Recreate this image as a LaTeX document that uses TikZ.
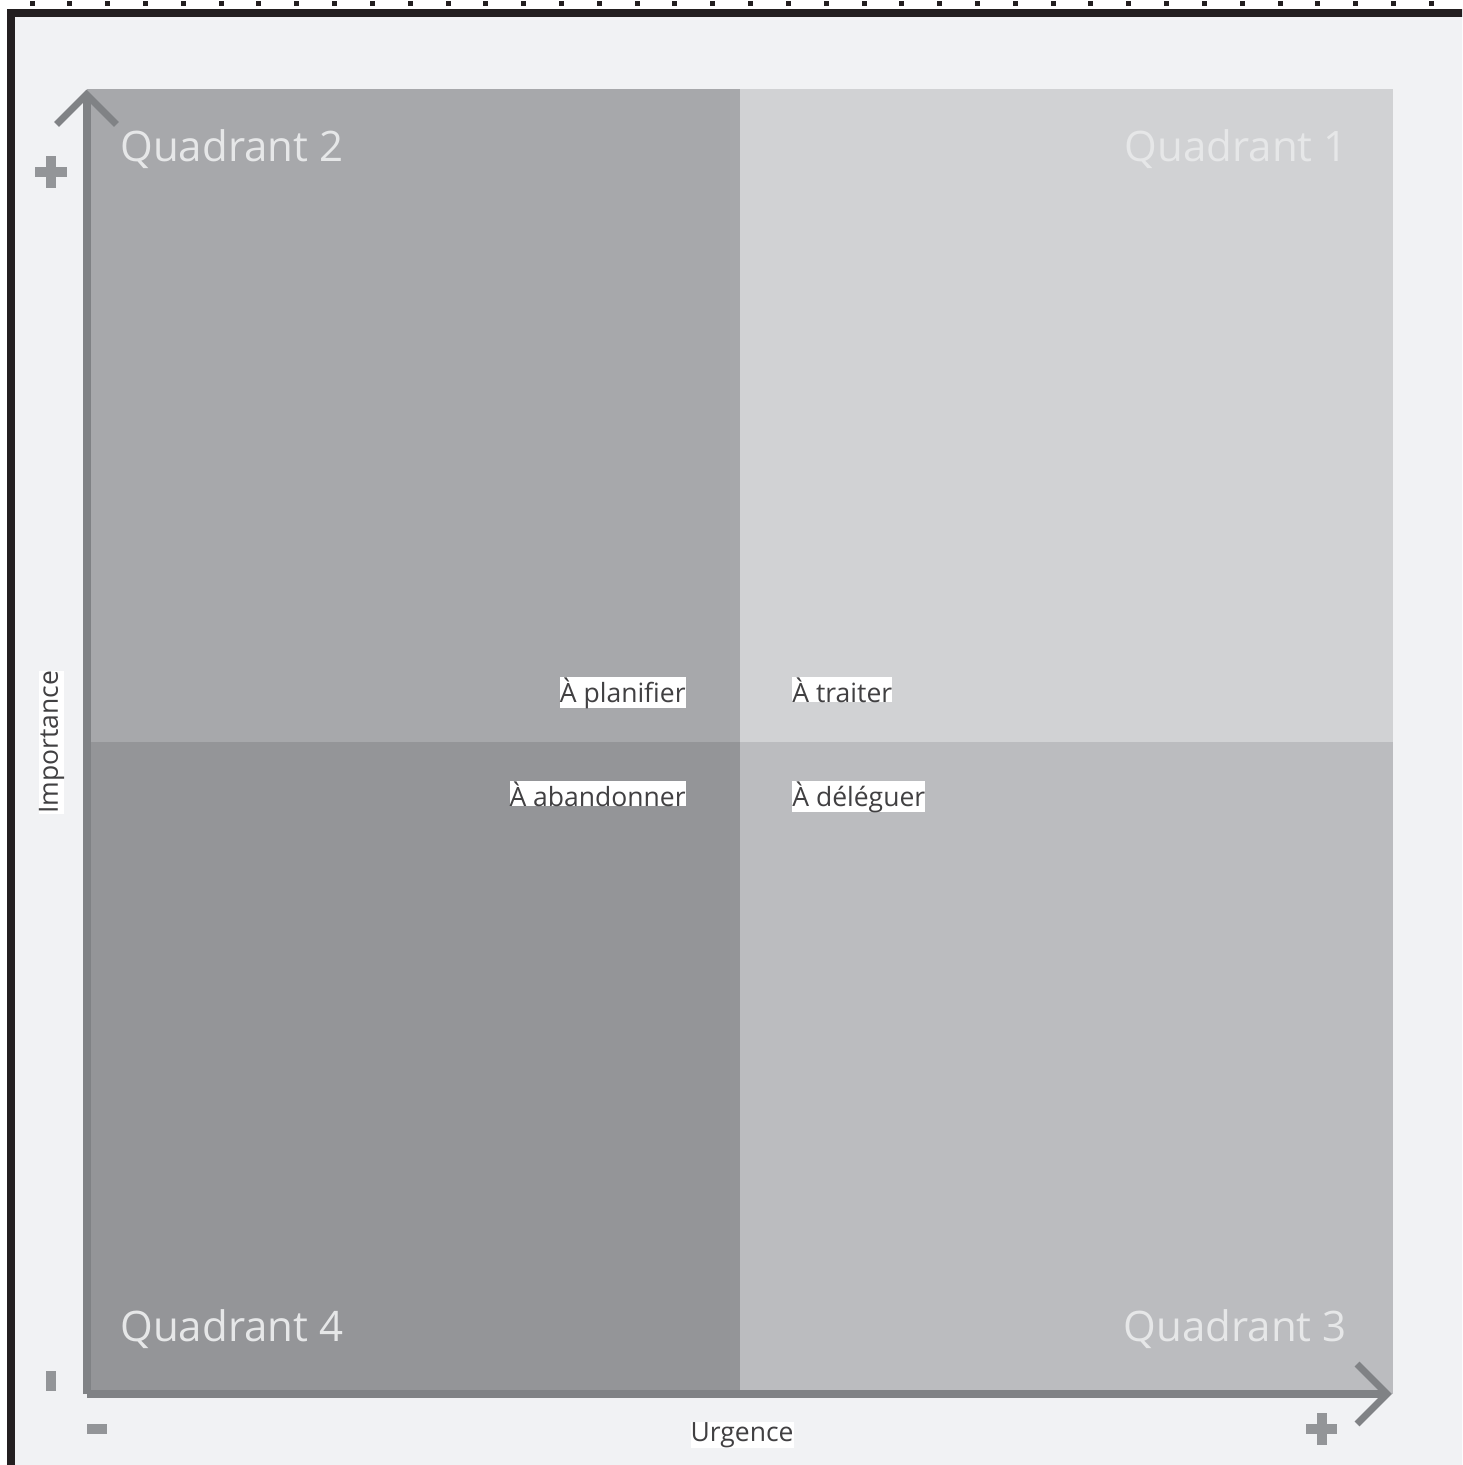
\documentclass[tikz,border=0pt]{standalone}
\usepackage{fontspec}
\setmainfont{Open Sans}
\definecolor{framebg}{HTML}{F1F2F4}
\definecolor{frameline}{HTML}{231F20}
\definecolor{quadone}{HTML}{D1D2D4}
\definecolor{quadtwo}{HTML}{A7A8AB}
\definecolor{quadthree}{HTML}{BBBCBF}
\definecolor{quadfour}{HTML}{949598}
\definecolor{axisgray}{HTML}{808285}
\definecolor{signgray}{HTML}{939598}
\definecolor{titlegray}{HTML}{E6E7E8}
\definecolor{labeltext}{HTML}{414042}

\begin{document}
\begin{tikzpicture}[x=0.5pt,y=-0.5pt,
  quadtitle/.style={font=\fontsize{21pt}{25pt}\selectfont,text=titlegray,inner sep=0pt},
  tag/.style={font=\fontsize{13.25pt}{16pt}\selectfont,text=labeltext,fill=white,inner sep=0pt},
  axis/.style={draw=axisgray,line width=4pt},
  sign/.style={fill=signgray}]
\useasboundingbox (0,0) rectangle (1462,1465);
\clip (0,0) rectangle (1462,1465);
\fill[white] (0,0) rectangle (1462,1465);
\draw[fill=framebg,draw=frameline,line width=4pt] (11,13.5) rectangle (1500,1500);
% ruler marks along the top
\foreach \i in {0,...,37}
  \fill[frameline] ({29.5+37.82*\i},1) rectangle ++(5,5);

% quadrants
\fill[quadtwo] (86.5,89) rectangle (740,742);
\fill[quadone] (740,89) rectangle (1393,742);
\fill[quadfour] (86.5,742) rectangle (740,1394);
\fill[quadthree] (740,742) rectangle (1393,1394);

% axes
\coordinate (O) at (86.5,1394);
\coordinate (ytip) at (86.5,94.5);
\coordinate (xtip) at (1387,1394);
\draw[axis,line cap=square] (O) -- (ytip);
\draw[axis,line cap=square] (O) -- (xtip);
\draw[axis,line width=3.5pt,line join=miter] (ytip) ++(-30,30) -- ++(30,-30) -- ++(30,30);
\draw[axis,line width=3.5pt,line join=miter] (xtip) ++(-30,-30) -- ++(30,30) -- ++(-30,30);

% plus and minus marks
\fill[sign] (35,167) rectangle (67,177);
\fill[sign] (46,156) rectangle (56,188);
\fill[sign] (46,1371) rectangle (56,1391);
\fill[sign] (87,1424) rectangle (107,1434);
\fill[sign] (1306,1424) rectangle (1337,1434);
\fill[sign] (1317,1413) rectangle (1327,1445);

\node[quadtitle,anchor=base west] (qtwo) at (120,162) {Quadrant 2};
\node[quadtitle,anchor=base east] (qone) at (1348,162) {Quadrant 1};
\node[quadtitle,anchor=base west] (qfour) at (120,1341) {Quadrant 4};
\node[quadtitle,anchor=base east] (qthree) at (1347,1341) {Quadrant 3};

\node[tag,anchor=base east] (plan) at (686,702) {À planifier};
\node[tag,anchor=base west] (treat) at (792,702) {À traiter};
\node[tag,anchor=base east] (drop) at (686,806) {À abandonner};
\node[tag,anchor=base west] (deleg) at (792,806) {À déléguer};

\node[tag,rotate=90] (imp) at (51.5,742.5) {Importance};
\node[tag] (urg) at (742,1435) {Urgence};
\end{tikzpicture}
\end{document}
